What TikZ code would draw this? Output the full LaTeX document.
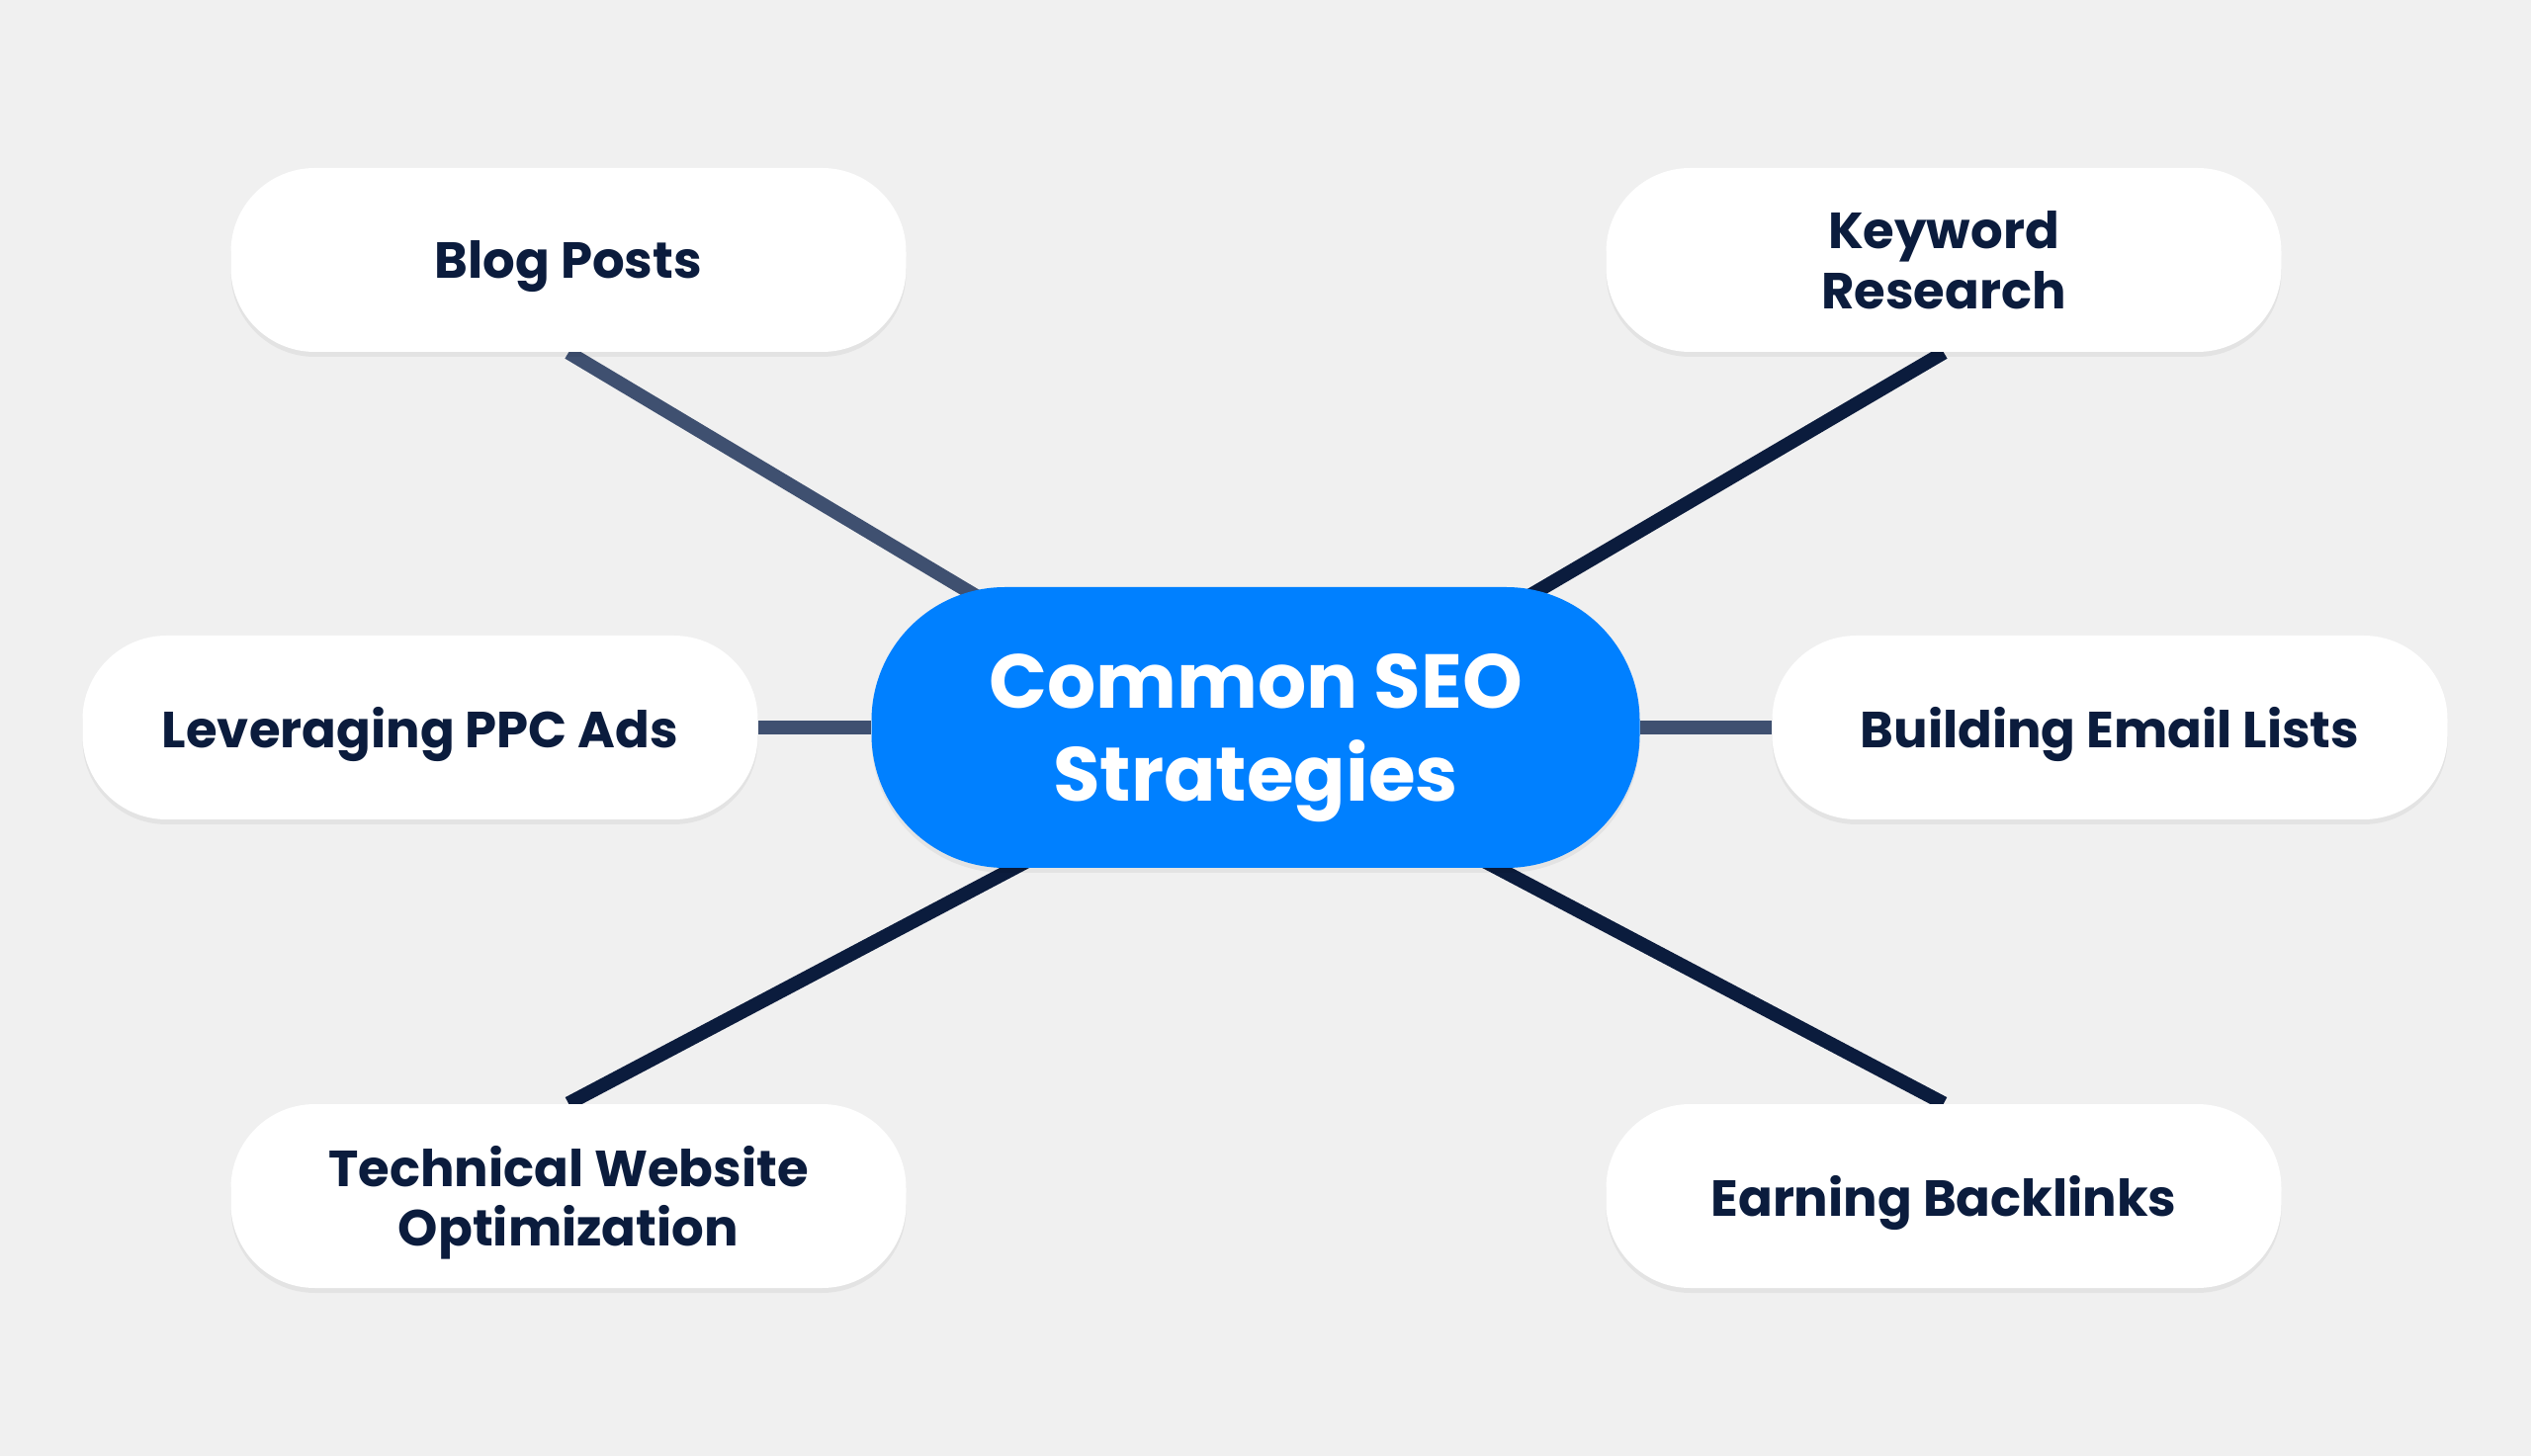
\documentclass[tikz,border=0pt]{standalone}
\usepackage{fontspec}
\setmainfont{Poppins}
\usepackage{tikz}
\usetikzlibrary{shadows, positioning, calc}

\definecolor{bgc}{HTML}{F0F0F0}
\definecolor{hubblue}{HTML}{0080FF}
\definecolor{navy}{HTML}{0B1C3D}
\definecolor{slate}{HTML}{3F5070}

\pgfdeclarelayer{back}
\pgfdeclarelayer{links}
\pgfsetlayers{back,links,main}

\tikzset{
    topic/.style={fill=white, rounded corners=0.85cm, minimum width=6.83cm, minimum height=1.86cm,
        align=center, text=navy, text depth=0pt, font=\bfseries\fontsize{14.6}{17.2}\selectfont,
        drop shadow={shadow xshift=0pt, shadow yshift=-0.05cm, opacity=0.05, fill=black}},
    hub/.style={fill=hubblue, rounded corners=1.35cm, minimum width=7.77cm, minimum height=2.84cm,
        align=center, text=white, text depth=0pt, font=\bfseries\fontsize{22}{26.5}\selectfont,
        drop shadow={shadow xshift=0pt, shadow yshift=-0.05cm, opacity=0.05, fill=black}},
    link/.style={line width=0.14cm}
}

\begin{document}
\begin{tikzpicture}
    \useasboundingbox (0,0) rectangle (25.6,-14.73);
    \begin{pgfonlayer}{back}
        \fill[bgc] (0,0) rectangle (25.6,-14.73);
    \end{pgfonlayer}

    \node[hub] (seo) at (12.70,-7.36) {Common SEO\\Strategies};

    \node[topic] (blog) at (5.75,-2.63) {Blog Posts};
    \node[topic] (keyword) at (19.66,-2.63) {Keyword\\Research};
    \node[topic] (ppc) at (4.25,-7.36) {Leveraging PPC Ads};
    \node[topic] (email) at (21.34,-7.36) {Building Email Lists};
    \node[topic] (tech) at (5.75,-12.10) {Technical Website\\Optimization};
    \node[topic] (backlinks) at (19.66,-12.10) {Earning Backlinks};

    % spokes
    \begin{pgfonlayer}{links}
        \draw[link, slate] (blog.south) -- ($(seo.center)+(-0.6,0)$);
        \draw[link, slate] (ppc.east) -- (seo.west);
        \draw[link, slate] (email.west) -- (seo.east);
        \draw[link, navy] (keyword.south) -- ($(seo.center)+(0.5,0)$);
        \draw[link, navy] (tech.north) -- ($(seo.center)+(0.25,0)$);
        \draw[link, navy] (backlinks.north) -- ($(seo.center)+(-0.25,0)$);
    \end{pgfonlayer}
\end{tikzpicture}
\end{document}
